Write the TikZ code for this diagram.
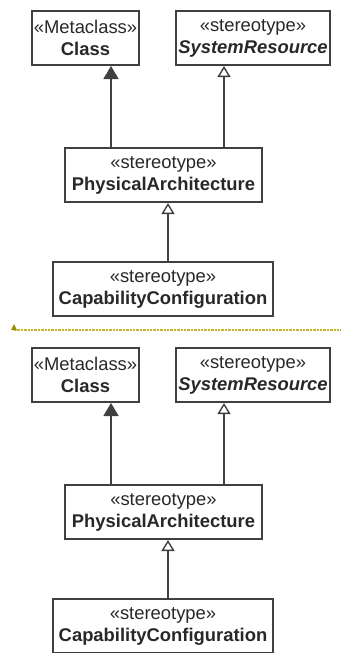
\documentclass[tikz,border=0pt]{standalone}
\usepackage{fontspec}
\setmainfont{Liberation Sans}
\usepackage{xcolor}
\usetikzlibrary{arrows.meta,positioning}

\definecolor{umlline}{RGB}{64,64,64}
\definecolor{umltext}{RGB}{40,40,40}
\definecolor{sepcol}{RGB}{195,185,40}
\definecolor{sepmark}{RGB}{150,145,0}

\begin{document}
\begin{tikzpicture}[
    x=0.5pt, y=-0.5pt,
    font=\fontsize{9.2}{11}\selectfont,
    cls/.style={draw=umlline, line width=1pt, fill=white, text=umltext, align=center,
                minimum height=27pt, inner sep=1pt},
    genopen/.style={-{Triangle[open, length=5.5pt, width=6.5pt, line width=0.7pt]},
                    line width=0.75pt, draw=umlline},
    genfill/.style={-{Triangle[length=6.5pt, width=7.5pt]}, line width=0.75pt, draw=umlline},
    sepline/.style={draw=sepcol, line width=0.6pt, dash pattern=on 1.2pt off 0.5pt}
]
\useasboundingbox (0,0) rectangle (341,653);

% upper diagram
\node[cls, minimum width=53.5pt] (meta1) at (85.5,38) {«Metaclass»\\\textbf{Class}};
\node[cls, minimum width=75pt] (sysres1) at (253,38) {«stereotype»\\\textbf{\textit{SystemResource}}};
\node[cls, minimum width=98.5pt] (phys1) at (163.5,175) {«stereotype»\\\textbf{PhysicalArchitecture}};
\node[cls, minimum width=110pt] (capcfg1) at (163,289) {«stereotype»\\\textbf{CapabilityConfiguration}};

\draw[genfill] (phys1.north -| 111,0) -- (meta1.south -| 111,0);
\draw[genopen] (phys1.north -| 224,0) -- (sysres1.south -| 224,0);
\draw[genopen] (capcfg1.north -| 168,0) -- (phys1.south -| 168,0);

% separator
\coordinate (sepL) at (14,330);
\coordinate (sepR) at (341,330);
\draw[sepline] (sepL) -- (sepR);
\fill[sepmark] ([xshift=-1.5pt]sepL) -- ([xshift=1.5pt]sepL) -- ([yshift=3pt]sepL) -- cycle;

% lower diagram
\node[cls, minimum width=53.5pt] (meta2) at (85.5,375) {«Metaclass»\\\textbf{Class}};
\node[cls, minimum width=75pt] (sysres2) at (253,375) {«stereotype»\\\textbf{\textit{SystemResource}}};
\node[cls, minimum width=98.5pt] (phys2) at (163.5,512) {«stereotype»\\\textbf{PhysicalArchitecture}};
\node[cls, minimum width=110pt] (capcfg2) at (163,626) {«stereotype»\\\textbf{CapabilityConfiguration}};

\draw[genfill] (phys2.north -| 111,0) -- (meta2.south -| 111,0);
\draw[genopen] (phys2.north -| 224,0) -- (sysres2.south -| 224,0);
\draw[genopen] (capcfg2.north -| 168,0) -- (phys2.south -| 168,0);
\end{tikzpicture}
\end{document}
